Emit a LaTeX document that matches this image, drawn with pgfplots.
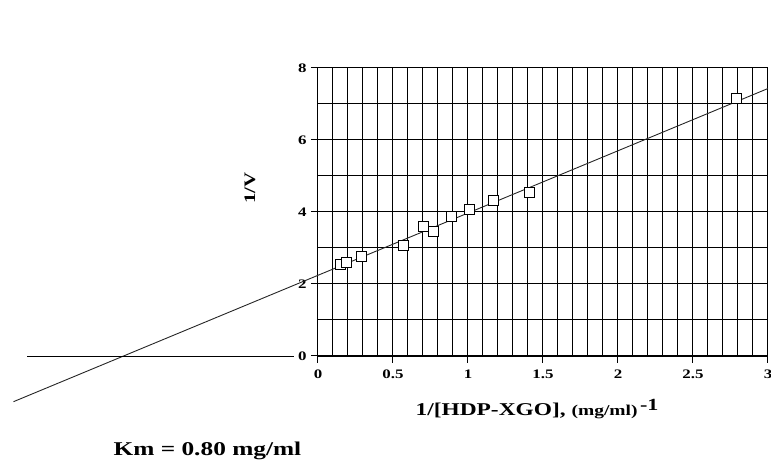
\documentclass[border=0pt]{standalone}
\usepackage{fontspec}
\setmainfont{Liberation Serif}[FakeStretch=1.3]
\usepackage{pgfplots}
\pgfplotsset{compat=1.18}
\begin{document}
\begin{tikzpicture}
\begin{axis}[
  scale only axis, width=450pt, height=288pt,
  xmin=0, xmax=3, ymin=0, ymax=8,
  clip=false,
  axis lines*=left,
  x axis line style={line width=1.8pt},
  y axis line style={line width=1pt},
  xtick={0,0.5,...,3}, minor x tick num=4,
  ytick={0,2,4,6,8}, minor y tick num=1,
  grid=both,
  major grid style={black, line width=1pt},
  minor grid style={black, line width=1pt},
  tick align=outside, major tick length=7pt, minor tick length=0pt,
  tick style={black, line width=1pt},
  /pgf/number format/assume math mode=true,
  xticklabel style={font=\fontsize{13}{15}\selectfont\bfseries, yshift=-3pt},
  yticklabel style={font=\fontsize{13}{15}\selectfont\bfseries, xshift=-1pt},
]
\addplot[black!85, line width=0.9pt, forget plot] coordinates {(-2.03,-1.27) (3.0,7.43)};
\addplot[black, line width=0.8pt, forget plot] coordinates {(-1.94,0) (-0.16,0)};
\addplot[only marks, mark=square*, mark size=5pt, mark options={fill=white, draw=black, line width=0.9pt}] coordinates {
(0.15,2.55) (0.19,2.60) (0.29,2.76) (0.57,3.06) (0.70,3.59) (0.77,3.45)
(0.89,3.88) (1.01,4.07) (1.17,4.33) (1.41,4.54) (2.79,7.14)};
\node[rotate=90, font=\fontsize{16}{18}\selectfont\bfseries] at (rel axis cs:-0.151,0.583) {1/V};
\node[font=\fontsize{18}{20}\selectfont\bfseries, anchor=base west] at (rel axis cs:0.209,-0.205) {1/[HDP-XGO],\ \fontsize{15}{17}\selectfont(mg/ml)\,\raisebox{5pt}{\fontsize{17}{19}\selectfont -1}};
\node[font=\fontsize{19.5}{21}\selectfont\bfseries, anchor=base west] at (rel axis cs:-0.462,-0.345) {Km = 0.80 mg/ml};
\coordinate (bl) at (rel axis cs:-0.7067,-0.3854);
\coordinate (tr) at (rel axis cs:1.0067,1.2361);
\end{axis}
\pgfresetboundingbox
\useasboundingbox (bl) rectangle (tr);
\end{tikzpicture}
\end{document}
